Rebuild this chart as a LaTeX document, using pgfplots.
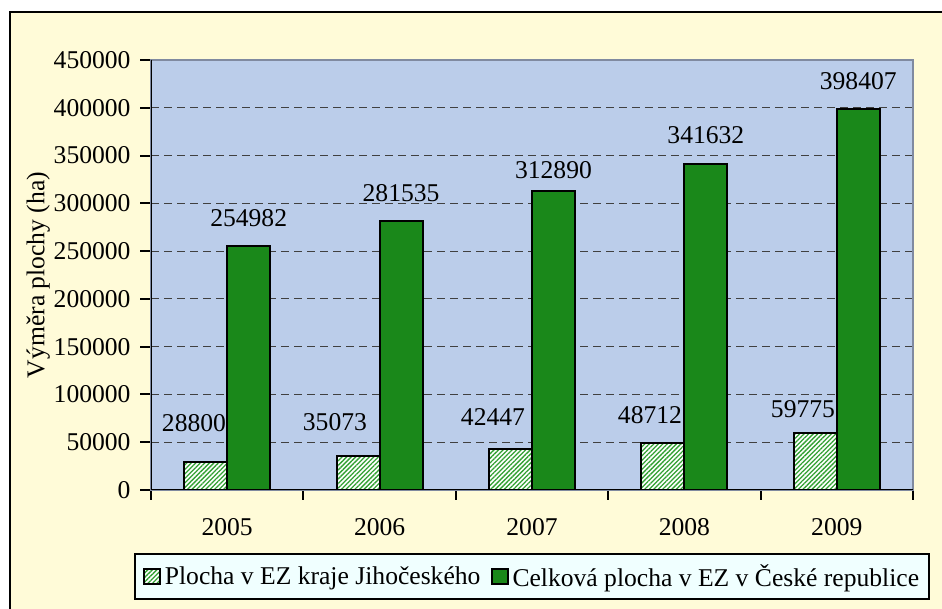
\documentclass[border=0pt]{standalone}
\usepackage{fontspec}
\setmainfont{Liberation Serif}
\newfontfamily\tnr{Liberation Serif}
\usepackage{pgfplots}
\pgfplotsset{compat=1.18}
\usetikzlibrary{patterns.meta}
\definecolor{bgyellow}{RGB}{255,251,216}
\definecolor{plotblue}{RGB}{187,205,234}
\definecolor{bargreen}{RGB}{26,136,26}
\definecolor{hatchgreen}{RGB}{50,160,50}
\definecolor{legcyan}{RGB}{240,255,255}
\definecolor{bordergray}{RGB}{128,138,160}
\begin{document}
\begin{tikzpicture}[x=1pt,y=1pt,font=\tnr\fontsize{12.8pt}{15pt}\selectfont]
\path[use as bounding box] (0,0) rectangle (471,304.5);
\fill[white] (0,0) rectangle (471,304.5);
\fill[bgyellow] (5,0) rectangle (471,298.5);
\draw[black, line width=1pt] (5,-1) -- (5,298.5) -- (472,298.5);
\begin{axis}[
  at={(75.5pt,59.5pt)}, anchor=south west,
  scale only axis, width=381pt, height=215pt,
  ymin=0, ymax=450000,
  ytick={0,50000,...,450000},
  scaled y ticks=false,
  tick label style={font=\tnr\fontsize{12.8pt}{15pt}\selectfont},
  yticklabel style={/pgf/number format/fixed, /pgf/number format/1000 sep={}, /pgf/number format/assume math mode=true, xshift=-1.2pt},
  xmin=-0.5, xmax=4.5,
  xtick={0,1,2,3,4},
  xticklabels={2005,2006,2007,2008,2009},
  xticklabel style={yshift=-5pt},
  minor xtick={-0.5,0.5,1.5,2.5,3.5,4.5},
  major x tick style={draw=none},
  tick align=outside,
  tick pos=left,
  major tick length=5.5pt,
  minor tick length=5pt,
  tick style={black, line width=1pt},
  ymajorgrids,
  major grid style={dash pattern=on 4pt off 2.5pt, black!75, line width=0.5pt},
  axis background/.style={fill=plotblue},
  axis line style={draw=bordergray, line width=0.8pt},
  ylabel={Výměra plochy (ha)},
  ylabel style={at={(axis description cs:-0.148,0.5)}, anchor=center, font=\tnr\fontsize{12.8pt}{15pt}\selectfont},
  ybar, bar width=0.282,
  legend columns=2,
  legend style={at={(0.5,-0.147)}, anchor=north, fill=legcyan, draw=black, line width=1pt,
    inner xsep=4pt, inner ysep=3pt,
    nodes={inner xsep=1pt},
    /tikz/every odd column/.append style={column sep=1pt},
    /tikz/every even column/.append style={column sep=4pt},
    font=\tnr\fontsize{12.8pt}{15pt}\selectfont},
  legend image code/.code={\draw[#1, line width=1pt] (0pt,-3.75pt) rectangle (8pt,3.75pt);},
]
\addplot[draw=black, line width=1pt, bar shift=-0.141, preaction={fill=white},
  pattern={Lines[angle=45,distance=1.6pt,line width=0.65pt]}, pattern color=hatchgreen]
  coordinates {(0,28800) (1,35073) (2,42447) (3,48712) (4,59775)};
\addlegendentry{Plocha v EZ kraje Jihočeského}
\addplot[draw=black, line width=1pt, bar shift=0.141, fill=bargreen]
  coordinates {(0,254982) (1,281535) (2,312890) (3,341632) (4,398407)};
\addlegendentry{Celková plocha v EZ v České republice}
\draw[black, line width=1pt] (rel axis cs:0,1) -- (rel axis cs:0,0) -- (rel axis cs:1,0);
\node at (axis cs:-0.218,70115) {28800};
\node at (axis cs:0.707,71162) {35073};
\node at (axis cs:1.744,76395) {42447};
\node at (axis cs:2.774,78488) {48712};
\node at (axis cs:3.778,84767) {59775};
\node at (axis cs:0.141,284650) {254982};
\node at (axis cs:1.141,310810) {281535};
\node at (axis cs:2.141,334357) {312890};
\node at (axis cs:3.141,370984) {341632};
\node at (axis cs:4.141,427495) {398407};
\end{axis}
\end{tikzpicture}
\end{document}
